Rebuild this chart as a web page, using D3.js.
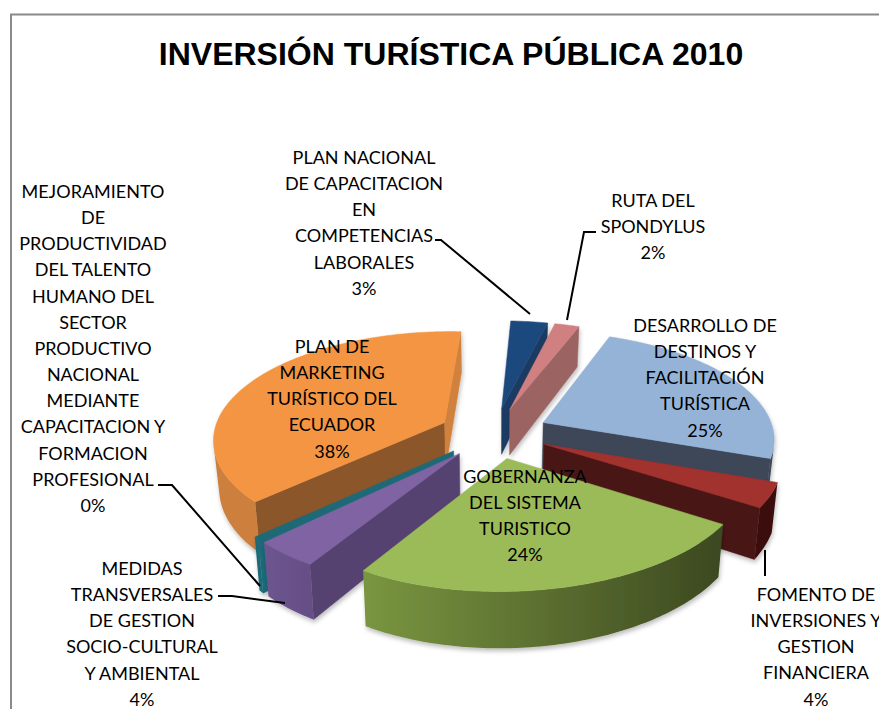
<!DOCTYPE html>
<html>
<head>
<meta charset="utf-8">
<script src="https://cdnjs.cloudflare.com/ajax/libs/d3/7.8.5/d3.min.js"></script>
<style>
    html, body { margin: 0; padding: 0; background: #fff; overflow: hidden; }
    svg { display: block; }
    .label { font-family: Lato, "Open Sans", sans-serif; font-size: 18px; fill: #000; }
    .title { font-family: "Liberation Sans", Arial, sans-serif; font-size: 32px; font-weight: bold; fill: #000; }
</style>
</head>
<body>
<svg id="chart"></svg>
<script>
const categories = [
    'DESARROLLO DE DESTINOS Y FACILITACIÓN TURÍSTICA',
    'FOMENTO DE INVERSIONES Y GESTION FINANCIERA',
    'GOBERNANZA DEL SISTEMA TURISTICO',
    'MEDIDAS TRANSVERSALES DE GESTION SOCIO-CULTURAL Y AMBIENTAL',
    'MEJORAMIENTO DE PRODUCTIVIDAD DEL TALENTO HUMANO DEL SECTOR PRODUCTIVO NACIONAL MEDIANTE CAPACITACION Y FORMACION PROFESIONAL',
    'PLAN DE MARKETING TURÍSTICO DEL ECUADOR',
    'PLAN NACIONAL DE CAPACITACION EN COMPETENCIAS LABORALES',
    'RUTA DEL SPONDYLUS'
];
// percentages, they round to the printed labels
const values = [24.6, 3.6, 24.45, 4, 0.4, 38, 3, 2];

const labelLines = [
    ['DESARROLLO DE', 'DESTINOS Y', 'FACILITACIÓN', 'TURÍSTICA'],
    ['FOMENTO DE', 'INVERSIONES Y', 'GESTION', 'FINANCIERA'],
    ['GOBERNANZA', 'DEL SISTEMA', 'TURISTICO'],
    ['MEDIDAS', 'TRANSVERSALES', 'DE GESTION', 'SOCIO-CULTURAL', 'Y AMBIENTAL'],
    ['MEJORAMIENTO', 'DE', 'PRODUCTIVIDAD', 'DEL TALENTO', 'HUMANO DEL', 'SECTOR', 'PRODUCTIVO', 'NACIONAL', 'MEDIANTE', 'CAPACITACION Y', 'FORMACION', 'PROFESIONAL'],
    ['PLAN DE', 'MARKETING', 'TURÍSTICO DEL', 'ECUADOR'],
    ['PLAN NACIONAL', 'DE CAPACITACION', 'EN', 'COMPETENCIAS', 'LABORALES'],
    ['RUTA DEL', 'SPONDYLUS']
];

const titleText = 'INVERSIÓN TURÍSTICA PÚBLICA 2010';

const width = 879, height = 709;

// where each label block sits, and its leader line if any
const labelPos = [
    {x: 705, y: 325},
    {x: 816, y: 594, leader: [[765, 550], [765, 576]]},
    {x: 525, y: 476},
    {x: 142, y: 568, leader: [[218, 596], [232, 596], [285, 603]]},
    {x: 93, y: 191, leader: [[158, 485], [172, 485], [260, 586]]},
    {x: 332, y: 346},
    {x: 364, y: 157, leader: [[435, 240], [441, 240], [530, 314]]},
    {x: 653, y: 200, leader: [[596, 232], [584, 232], [567, 320]]}
];
const lineStep = 26.15;

// top, radial walls (start / end of the slice), outer wall (low angle side to high)
const sliceStyle = [
    {top: '#95b3d7', wallStart: '#3c4658', wallEnd: '#3c4658', arcA: '#3c4658', arcB: '#3c4658'},
    {top: '#a2302e', wallStart: '#4a1414', wallEnd: '#4a1414', arcA: '#3a0f0e', arcB: '#3a0f0e'},
    {top: '#9bbb59', wallStart: '#4f6128', wallEnd: '#4f6128', arcA: '#3c4820', arcB: '#7a9640'},
    {top: '#8064a2', wallStart: '#57436f', wallEnd: '#6d5590', arcA: '#654f85', arcB: '#6d5590'},
    {top: '#1f6a78', wallStart: '#1f6a78', wallEnd: '#1f6a78', arcA: '#1f6a78', arcB: '#1f6a78'},
    {top: '#f39543', wallStart: '#8b562a', wallEnd: '#d0813c', arcA: '#cd7f3c', arcB: '#cd7f3c'},
    {top: '#1f497d', wallStart: '#1b4272', wallEnd: '#1a3a63', arcA: '#1b4272', arcB: '#1b4272'},
    {top: '#d08080', wallStart: '#9c6464', wallEnd: '#9c6464', arcA: '#9c6464', arcB: '#9c6464'}
];

// painter order, back to front
const drawOrder = [6, 7, 5, 0, 4, 3, 1, 2];

// pie geometry with a simple perspective
const cx = 494, cy = 433;
const radius = 231, explode = 55, tilt = 0.461, persp = 0.000607;
const wallHeight = 47;
const frontDrift = 0.00013; // near side of the pie leans left a little
const startAngle = 20.9 * Math.PI / 180;

const project = (theta, r, apexU, apexV, z) => {
    const u = apexU + r * Math.sin(theta);
    const v = apexV - r * Math.cos(theta);
    const s = 1 / (1 - persp * v);
    const shrink = 1 - 0.02 * z;
    const drift = v > 0 ? frontDrift * v * v : 0;
    return [cx + u * s * shrink - drift, cy + v * tilt * s + z * wallHeight * s];
};

const pie = d3.pie().sort(null).startAngle(startAngle).endAngle(startAngle + 2 * Math.PI);
const arcs = pie(values);

const svg = d3.select('#chart').attr('width', width).attr('height', height);

const defs = svg.append('defs');
const shadow = defs.append('filter').attr('id', 'shadow')
    .attr('x', '-10%').attr('y', '-10%').attr('width', '120%').attr('height', '125%');
shadow.append('feDropShadow')
    .attr('dx', 1).attr('dy', 3).attr('stdDeviation', 2)
    .attr('flood-color', '#000').attr('flood-opacity', 0.25);

// chart frame, only top and left fall inside the picture
svg.append('path')
    .attr('d', `M11,${height}V14.5H${width}`)
    .attr('fill', 'none').attr('stroke', '#8a8a8a').attr('stroke-width', 2);

svg.append('text').attr('class', 'title')
    .attr('x', 451).attr('y', 65)
    .attr('text-anchor', 'middle')
    .text(titleText);

const line = d3.line();
const isVisible = quad => d3.polygonArea(quad) > 0;

const pieG = svg.append('g');

drawOrder.forEach(i => {
    const d = arcs[i];
    const style = sliceStyle[i];
    const mid = (d.startAngle + d.endAngle) / 2;
    const apexU = explode * Math.sin(mid);
    const apexV = -explode * Math.cos(mid);
    const g = pieG.append('g').attr('filter', 'url(#shadow)');

    const steps = Math.max(2, Math.ceil((d.endAngle - d.startAngle) * 180 / Math.PI));
    const angles = d3.range(steps + 1).map(k => d.startAngle + (d.endAngle - d.startAngle) * k / steps);
    const rim = z => angles.map(t => project(t, radius, apexU, apexV, z));
    const apex = z => project(0, 0, apexU, apexV, z);

    const rimTop = rim(0), rimBottom = rim(1);

    const wall = (quad, color) => {
        if (!isVisible(quad)) return;
        g.append('path').attr('d', line(quad) + 'Z')
            .attr('fill', color).attr('stroke', color).attr('stroke-width', 0.5);
    };

    wall([apex(0), rimTop[0], rimBottom[0], apex(1)], style.wallStart);
    wall([rimTop[steps], apex(0), apex(1), rimBottom[steps]], style.wallEnd);

    // outer wall as one polygon over the part of the rim that faces the viewer
    const shown = d3.range(steps).filter(k =>
        isVisible([rimTop[k], rimTop[k + 1], rimBottom[k + 1], rimBottom[k]]));
    if (shown.length) {
        const first = shown[0], last = shown[shown.length - 1] + 1;
        const gradId = `wall-${i}`;
        const grad = defs.append('linearGradient').attr('id', gradId)
            .attr('gradientUnits', 'userSpaceOnUse')
            .attr('x1', rimTop[first][0]).attr('y1', 0)
            .attr('x2', rimTop[last][0]).attr('y2', 0);
        grad.append('stop').attr('offset', 0).attr('stop-color', style.arcA);
        grad.append('stop').attr('offset', 1).attr('stop-color', style.arcB);
        const outline = [...rimTop.slice(first, last + 1), ...rimBottom.slice(first, last + 1).reverse()];
        g.append('path').attr('d', line(outline) + 'Z')
            .attr('fill', `url(#${gradId})`);
    }

    g.append('path').attr('d', line([apex(0), ...rimTop]) + 'Z')
        .attr('fill', style.top).attr('stroke', style.top).attr('stroke-width', 0.5);
});

// leader lines
labelPos.filter(p => p.leader).forEach(p => {
    svg.append('path').attr('d', line(p.leader))
        .attr('fill', 'none').attr('stroke', '#000').attr('stroke-width', 2);
});

const pct = d3.format('.0f');
const total = d3.sum(values);

labelPos.forEach((p, i) => {
    const rows = [...labelLines[i], pct(values[i] / total * 100) + '%'];
    const t = svg.append('text').attr('class', 'label').attr('text-anchor', 'middle');
    rows.forEach((row, r) => {
        t.append('tspan').attr('x', p.x).attr('y', p.y + r * lineStep)
            .attr('dominant-baseline', 'central').text(row);
    });
});
</script>
</body>
</html>
